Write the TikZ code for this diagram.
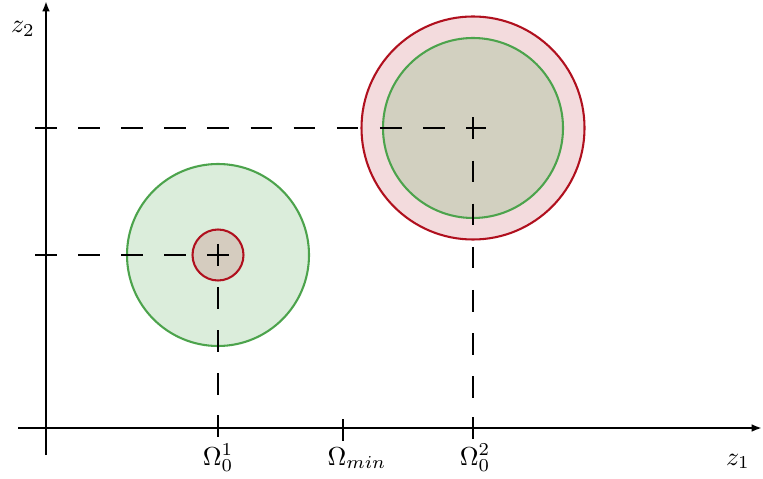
\documentclass[tikz,border=0pt]{standalone}
\usetikzlibrary{arrows.meta}
\definecolor{cred}{RGB}{176,16,30}
\definecolor{cgreen}{RGB}{76,163,76}
\begin{document}
\begin{tikzpicture}[x=0.385pt,y=-0.385pt,
  axisline/.style={line width=1pt,-{Latex[length=4pt,width=3pt]}},
  tickline/.style={line width=1pt},
  guide/.style={line width=0.9pt,dash pattern=on 8.3pt off 8.3pt},
  greendisc/.style={draw=cgreen,line width=0.8pt,fill=cgreen,fill opacity=0.2,draw opacity=1},
  reddisc/.style={draw=cred,line width=0.8pt,fill=cred,fill opacity=0.15,draw opacity=1},
  lab/.style={inner sep=0pt,anchor=base}]
\useasboundingbox (0,0) rectangle (763,479);
% centres
\coordinate (c1) at (218,255);
\coordinate (c2) at (473,128);
% discs
\filldraw[reddisc] (c2) circle[radius=111.5];
\filldraw[greendisc] (c2) circle[radius=90];
\filldraw[greendisc] (c1) circle[radius=91];
\filldraw[reddisc] (c1) circle[radius=25.5];
% axes
\coordinate (xs) at (18,428);
\coordinate (xe) at (762,428);
\coordinate (ys) at (46,455);
\coordinate (ye) at (46,1);
\draw[axisline] (xs) -- (xe);
\draw[axisline] (ys) -- (ye);
% ticks
\coordinate (t1a) at (218,415); \coordinate (t1b) at (218,437);
\coordinate (tma) at (343,419); \coordinate (tmb) at (343,441);
\coordinate (t2a) at (473,417); \coordinate (t2b) at (473,439);
\draw[tickline] (t1a) -- (t1b);
\draw[tickline] (tma) -- (tmb);
\draw[tickline] (t2a) -- (t2b);
% dashed guides
\coordinate (h1s) at (35,255); \coordinate (h1e) at (229.5,255);
\coordinate (v1s) at (218,244); \coordinate (v1e) at (218,428);
\coordinate (h2s) at (35,128); \coordinate (h2e) at (486,128);
\coordinate (v2s) at (473,117.5); \coordinate (v2e) at (473,428);
\draw[guide] (h1s) -- (h1e);
\draw[guide] (v1s) -- (v1e);
\draw[guide] (h2s) -- (h2e);
\draw[guide] (v2s) -- (v2e);
% labels
\node[lab] (l1) at (218,465) {$\Omega_0^1$};
\node[lab] (lm) at (357,465) {$\Omega_{min}$};
\node[lab] (l2) at (475,465) {$\Omega_0^2$};
\node[lab] (lz1) at (738,465) {$z_1$};
\node[lab] (lz2) at (23,33) {$z_2$};
\end{tikzpicture}
\end{document}
